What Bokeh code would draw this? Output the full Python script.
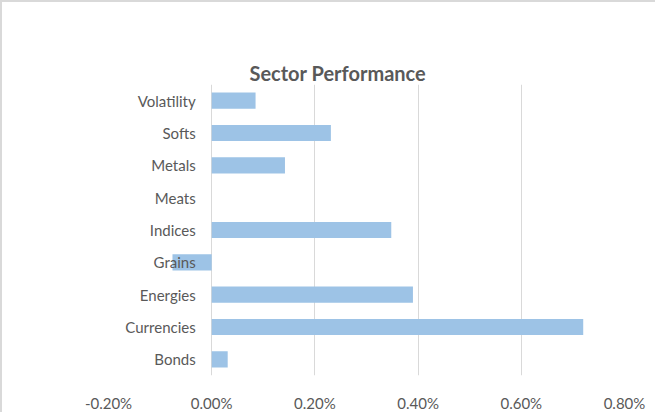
from bokeh.plotting import figure
from bokeh.models import ColumnDataSource, NumeralTickFormatter, FixedTicker, Range1d, Title
from bokeh.core.properties import value
from bokeh.embed import file_html
from bokeh.resources import INLINE

categories = ["Bonds", "Currencies", "Energies", "Grains", "Indices", "Meats", "Metals", "Softs", "Volatility"]
performance = [0.00031, 0.0072, 0.0039, -0.00076, 0.00348, 0.0, 0.00142, 0.00231, 0.00085]
tick_values = [-0.002, 0.0, 0.002, 0.004, 0.006, 0.008]
title_text = "Sector Performance"

src = ColumnDataSource(data=dict(cat=categories, perf=performance, zero=[0.0] * len(categories)))

FONT = "Lato"
GREY = "#595959"

p = figure(
    frame_width=516, frame_height=291,
    y_range=categories,
    x_range=Range1d(-0.002, 0.008),
    output_backend="svg", toolbar_location=None,
    min_border_left=106, min_border_right=31, min_border_top=82, min_border_bottom=0,
)
p.title.visible = False

# real title first (outer), then an invisible spacer next to the plot area
p.add_layout(Title(text=title_text, align="left", offset=141, standoff=0,
                   text_font=FONT, text_font_size="20px", text_font_style="bold",
                   text_color=GREY), "above")
p.add_layout(Title(text="x", text_alpha=0, text_font=FONT, text_font_size="20px", standoff=12), "above")

p.hbar(y="cat", left="zero", right="perf", height=0.5, source=src,
       fill_color="#9DC3E6", line_color=None)

p.text(x="zero", y="cat", text="cat", source=src, x_offset=-16,
       text_align="right", text_baseline="middle",
       text_font=value(FONT), text_font_size="15px", text_color=GREY)

p.yaxis.visible = False
p.ygrid.grid_line_color = None
p.xgrid.grid_line_color = "#D9D9D9"
p.xgrid.grid_line_width = 1
p.xaxis.ticker = FixedTicker(ticks=tick_values)
p.xaxis.formatter = NumeralTickFormatter(format="0.00%")
p.xaxis.axis_line_color = None
p.xaxis.major_tick_line_color = None
p.xaxis.minor_tick_line_color = None
p.xaxis.major_label_text_font = FONT
p.xaxis.major_label_text_font_size = "15px"
p.xaxis.major_label_text_color = GREY
p.xaxis.major_label_standoff = 12
p.outline_line_color = None
p.styles = {"border-top": "2px solid #D9D9D9", "border-left": "2px solid #D9D9D9"}

open("out.html", "w").write(file_html(p, INLINE))
